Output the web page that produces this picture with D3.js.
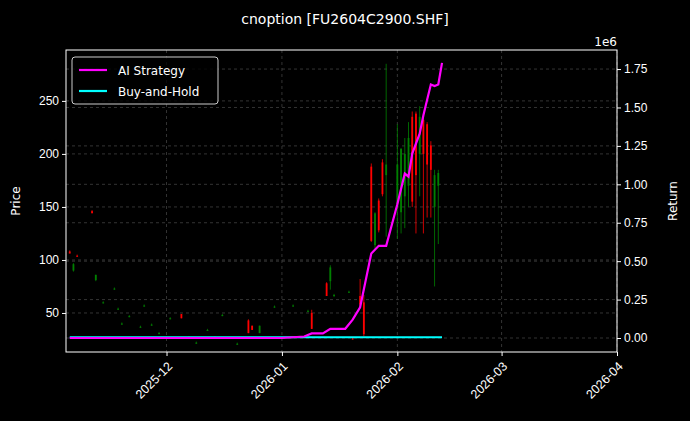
<!DOCTYPE html>
<html lang="en">
<head>
  <meta charset="UTF-8" />
  <title>cnoption</title>
  <script src="https://d3js.org/d3.v7.min.js"></script>
  <style>
    body { margin: 0; background: #000; font-family: "DejaVu Sans", sans-serif; }
    .grid line { stroke: #555; stroke-dasharray: 3,3; stroke-width: 0.6; }
    .axis text { fill: #fff; font-size: 12px; }
    .axis path, .axis line { stroke: #fff; }
  </style>
</head>
<body>
  <svg width="690" height="421"></svg>
  <script>
    // candles: date, open, high, low, close
    const candleDates = ["2025-11-05","2025-11-06","2025-11-07","2025-11-11","2025-11-12","2025-11-14","2025-11-17","2025-11-18","2025-11-19","2025-11-21","2025-11-24","2025-11-25","2025-11-27","2025-11-29","2025-12-02","2025-12-05","2025-12-07","2025-12-09","2025-12-12","2025-12-14","2025-12-16","2025-12-20","2025-12-23","2025-12-24","2025-12-26","2025-12-30","2026-01-04","2026-01-08","2026-01-09","2026-01-13","2026-01-14","2026-01-15","2026-01-19","2026-01-20","2026-01-22","2026-01-23","2026-01-25","2026-01-26","2026-01-27","2026-01-28","2026-01-29","2026-02-01","2026-02-02","2026-02-03","2026-02-04","2026-02-05","2026-02-06","2026-02-07","2026-02-08","2026-02-09","2026-02-10","2026-02-11","2026-02-12"];
    const opens  = [108, 90, 104, 146, 81, 60, 73, 54, 40, 47, 37, 57, 39, 31, 45, 49, 27, 22, 34, 27, 48, 21, 43, 38, 31, 56, 57, 52, 50, 78, 80, 67, 70, 26, 66, 60, 188, 114, 156, 192, 180, 150, 145, 160, 170, 235, 238, 200, 232, 228, 208, 150, 170];
    const highs  = [109, 97, 105, 147, 86, 61, 74, 55, 41, 48, 38, 58, 40, 32, 46, 49, 28, 23, 35, 28, 49, 22, 44, 38, 38, 57, 58, 53, 53, 79, 95, 68, 71, 27, 82, 67, 191, 145, 158, 195, 285, 228, 205, 215, 230, 240, 240, 245, 235, 230, 212, 185, 185];
    const lows   = [107, 89, 103, 145, 80, 59, 72, 53, 39, 46, 36, 56, 38, 30, 44, 45, 26, 21, 33, 26, 47, 20, 31, 34, 31, 55, 56, 51, 35, 66, 72, 65, 69, 25, 55, 28, 117, 110, 126, 160, 122, 120, 125, 130, 150, 150, 125, 160, 125, 140, 140, 75, 115];
    const closes = [106, 96, 103, 144, 86, 60, 73, 54, 40, 47, 37, 57, 39, 31, 45, 45, 27, 22, 34, 27, 48, 21, 31, 34, 38, 56, 57, 52, 35, 66, 93, 67, 70, 25, 58, 30, 118, 144, 128, 162, 190, 190, 205, 200, 215, 155, 180, 235, 200, 190, 185, 180, 182];

    // strategy return curves (units of 1e6)
    const retDates = ["2025-11-05","2025-12-01","2026-01-01","2026-01-07","2026-01-09","2026-01-12","2026-01-14","2026-01-18","2026-01-20","2026-01-22","2026-01-25","2026-01-27","2026-01-29","2026-02-01","2026-02-03","2026-02-04","2026-02-05","2026-02-07","2026-02-08","2026-02-09","2026-02-10","2026-02-11","2026-02-12","2026-02-13"];
    const aiReturn  = [0, 0, 0, 0.01, 0.03, 0.03, 0.06, 0.06, 0.12, 0.2, 0.55, 0.6, 0.6, 0.87, 1.07, 1.05, 1.2, 1.33, 1.45, 1.55, 1.65, 1.64, 1.65, 1.79];
    const bhReturn  = [0.005, 0.005, 0.005, 0.005, 0.005, 0.005, 0.005, 0.005, 0.005, 0.005, 0.005, 0.005, 0.005, 0.005, 0.005, 0.005, 0.005, 0.005, 0.005, 0.005, 0.005, 0.005, 0.005, 0.005];

    const parse = d3.timeParse("%Y-%m-%d");
    const svg = d3.select("svg");
    const m = { left: 66, right: 617, top: 50, bottom: 352 };

    const x = d3.scaleTime().domain([parse("2025-11-04"), parse("2026-04-01")]).range([m.left, m.right]);
    const y = d3.scaleLinear().domain([13.2, 298]).range([m.bottom, m.top]);
    const y2 = d3.scaleLinear().domain([-0.091, 1.874]).range([m.bottom, m.top]);

    const months = ["2025-12-01","2026-01-01","2026-02-01","2026-03-01","2026-04-01"].map(parse);
    const priceTicks = [50, 100, 150, 200, 250];
    const retTicks = d3.range(0, 1.76, 0.25);

    // grid
    const grid = svg.append("g").attr("class", "grid");
    grid.selectAll(".vx").data(months).join("line")
      .attr("x1", d => x(d)).attr("x2", d => x(d)).attr("y1", m.top).attr("y2", m.bottom);
    grid.selectAll(".hy").data(priceTicks).join("line")
      .attr("x1", m.left).attr("x2", m.right).attr("y1", d => y(d)).attr("y2", d => y(d));
    grid.selectAll(".hy2").data(retTicks).join("line")
      .attr("x1", m.left).attr("x2", m.right).attr("y1", d => y2(d)).attr("y2", d => y2(d));

    // candles
    const candles = candleDates.map((d, i) => ({ date: parse(d), o: opens[i], h: highs[i], l: lows[i], c: closes[i] }));
    const cg = svg.append("g");
    candles.forEach(d => {
      const col = d.c >= d.o ? "#008000" : "#ff0000";
      const cx = x(d.date);
      cg.append("line").attr("x1", cx).attr("x2", cx).attr("y1", y(d.h)).attr("y2", y(d.l))
        .attr("stroke", col).attr("stroke-width", 0.8);
      const top = y(Math.max(d.o, d.c)), bot = y(Math.min(d.o, d.c));
      cg.append("rect").attr("x", cx - 0.9).attr("width", 1.8)
        .attr("y", top).attr("height", Math.max(1, bot - top)).attr("fill", col);
    });

    // return lines
    const line = vals => d3.line().x((d, i) => x(parse(retDates[i]))).y(d => y2(d))(vals);
    svg.append("path").attr("d", line(bhReturn)).attr("fill", "none").attr("stroke", "#00ffff").attr("stroke-width", 2.2);
    svg.append("path").attr("d", line(aiReturn)).attr("fill", "none").attr("stroke", "#ff00ff").attr("stroke-width", 2.2);

    // frame
    svg.append("rect").attr("x", m.left).attr("y", m.top).attr("width", m.right - m.left).attr("height", m.bottom - m.top)
      .attr("fill", "none").attr("stroke", "#fff").attr("stroke-width", 1);

    // axes
    svg.append("g").attr("class", "axis").attr("transform", `translate(${m.left},0)`)
      .call(d3.axisLeft(y).tickValues(priceTicks).tickSize(4)).call(g => g.select(".domain").remove());
    svg.append("g").attr("class", "axis").attr("transform", `translate(${m.right},0)`)
      .call(d3.axisRight(y2).tickValues(retTicks).tickSize(4).tickFormat(d3.format(".2f")))
      .call(g => g.select(".domain").remove());
    svg.append("g").attr("class", "axis").attr("transform", `translate(0,${m.bottom})`)
      .call(d3.axisBottom(x).tickValues(months).tickSize(4).tickFormat(d3.timeFormat("%Y-%m")))
      .call(g => g.select(".domain").remove())
      .selectAll("text").attr("text-anchor", "end").attr("x", 0).attr("y", 0).attr("dy", "0.35em")
      .style("font-size", "12.5px")
      .attr("transform", "translate(3,12) rotate(-45)");

    // labels
    svg.append("text").attr("x", 345).attr("y", 24).attr("text-anchor", "middle").attr("fill", "#fff")
      .attr("font-size", 14).text("cnoption [FU2604C2900.SHF]");
    svg.append("text").attr("transform", "translate(20,201) rotate(-90)").attr("text-anchor", "middle")
      .attr("fill", "#fff").attr("font-size", 12).text("Price");
    svg.append("text").attr("transform", "translate(677,201) rotate(-90)").attr("text-anchor", "middle")
      .attr("fill", "#fff").attr("font-size", 12).text("Return");
    svg.append("text").attr("x", 617).attr("y", 46).attr("text-anchor", "end").attr("fill", "#fff")
      .attr("font-size", 12).text("1e6");

    // legend
    const lg = svg.append("g").attr("transform", "translate(72,57)");
    lg.append("rect").attr("width", 146).attr("height", 47).attr("rx", 3)
      .attr("fill", "#000").attr("fill-opacity", 0.8).attr("stroke", "#ccc");
    [["AI Strategy", "#ff00ff"], ["Buy-and-Hold", "#00ffff"]].forEach((d, i) => {
      const yy = 13 + i * 21;
      lg.append("line").attr("x1", 7).attr("x2", 35).attr("y1", yy).attr("y2", yy).attr("stroke", d[1]).attr("stroke-width", 2.2);
      lg.append("text").attr("x", 46).attr("y", yy + 4.5).attr("fill", "#fff").attr("font-size", 12).text(d[0]);
    });
  </script>
</body>
</html>
